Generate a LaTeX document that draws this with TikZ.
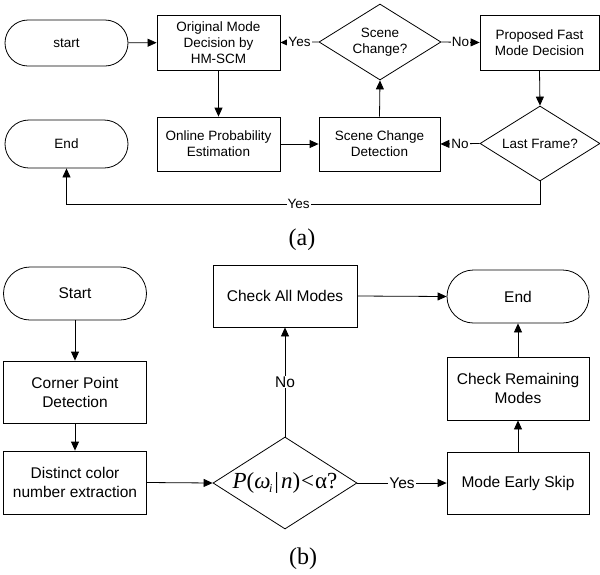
\documentclass[tikz,border=0pt]{standalone}
\usepackage{fontspec}
\setmainfont{Liberation Serif}
\setsansfont{Liberation Sans}
\usetikzlibrary{shapes.geometric,arrows.meta}
\begin{document}
\begin{tikzpicture}[x=1pt,y=-1pt,
  base/.style={draw=black, line width=0.8pt, inner sep=0pt, align=center},
  fa/.style={font=\sffamily\fontsize{13.5}{16}\selectfont},
  fb/.style={font=\sffamily\fontsize{15.5}{19}\selectfont},
  proc/.style={base, rectangle},
  term/.style={base, rectangle},
  dec/.style={base, diamond},
  arr/.style={-{Triangle[length=9pt,width=8pt]}, line width=0.8pt},
  lbl/.style={fill=white, inner sep=1pt},
  captxt/.style={font=\rmfamily\fontsize{24}{26}\selectfont}
]
\useasboundingbox (0,0) rectangle (600,574);

% ---------- (a) ----------
\node[term, fa, rounded corners=23pt, minimum width=123pt, minimum height=46pt] (starta) at (66.5,43) {start};
\node[proc, fa, minimum width=123pt, minimum height=55pt] (orig) at (218.5,42.5) {Original Mode\\Decision by\\HM-SCM};
\node[proc, fa, minimum width=123pt, minimum height=54pt] (online) at (218.5,144) {Online Probability\\Estimation};
\node[term, fa, rounded corners=24pt, minimum width=123pt, minimum height=48pt] (enda) at (66.5,144) {End};
\node[dec, fa, aspect=1.6, minimum width=122pt, minimum height=76pt] (sc) at (380,42) {Scene\\Change?};
\node[proc, fa, minimum width=119pt, minimum height=55pt] (prop) at (539.5,42.5) {Proposed Fast\\Mode Decision};
\node[dec, fa, aspect=1.6, minimum width=120pt, minimum height=75pt] (lf) at (540,143.5) {Last Frame?};
\node[proc, fa, minimum width=121pt, minimum height=54pt] (scd) at (379.5,144) {Scene Change\\Detection};

\draw[arr] (starta) -- (orig);
\draw[arr] (sc.west) -- node[lbl, fa] {Yes} (orig.east);
\draw[arr] (sc.east) -- node[lbl, fa] {No} (prop.west);
\draw[arr] (prop.south) -- (lf.north);
\draw[arr] (lf.west) -- node[lbl, fa] {No} (scd.east);
\draw[arr] (scd.north) -- (sc.south);
\draw[arr] (orig.south) -- (online.north);
\draw[arr] (online.east) -- (scd.west);
\draw[arr] (lf.south) -- ++(0,23) -| node[lbl, fa, pos=0.255] {Yes} (enda.south);

\node[captxt] (capa) at (302,240) {(a)};

% ---------- (b) ----------
\node[term, fb, rounded corners=26.5pt, minimum width=143pt, minimum height=53pt] (startb) at (75,293.5) {Start};
\node[proc, fb, minimum width=143pt, minimum height=62pt] (corner) at (75,392) {Corner Point\\Detection};
\node[proc, fb, minimum width=143pt, minimum height=63pt] (dist) at (75,482.5) {Distinct color\\number extraction};
\node[dec, aspect=1.565, minimum width=144pt, minimum height=92pt,
      font=\rmfamily\fontsize{23}{25}\selectfont] (pd) at (285,483)
  {\textit{P}(\textit{ω}\kern-1.5pt\raisebox{-4pt}{\fontsize{12}{12}\selectfont\textit{i}}\kern2pt|\kern2pt\textit{n})\kern1pt<\kern1ptα?};
\node[proc, fb, minimum width=144pt, minimum height=62pt] (chkall) at (285,296) {Check All Modes};
\node[term, fb, rounded corners=26.5pt, minimum width=142pt, minimum height=53pt] (endb) at (518,296.5) {End};
\node[proc, fb, minimum width=142pt, minimum height=63pt] (chkrem) at (518,388.5) {Check Remaining\\Modes};
\node[proc, fb, minimum width=142pt, minimum height=62pt] (skip) at (518,483) {Mode Early Skip};

\draw[arr] (startb) -- (corner);
\draw[arr] (corner) -- (dist);
\draw[arr] (dist.east) -- (pd.west);
\draw[arr] (pd.north) -- node[lbl, fb] {No} (chkall.south);
\draw[arr] (chkall.east) -- (endb.west);
\draw[arr] (pd.east) -- node[lbl, fb] {Yes} (skip.west);
\draw[arr] (skip.north) -- (chkrem.south);
\draw[arr] (chkrem.north) -- (endb.south);

\node[captxt] (capb) at (303,559) {(b)};
\end{tikzpicture}
\end{document}
